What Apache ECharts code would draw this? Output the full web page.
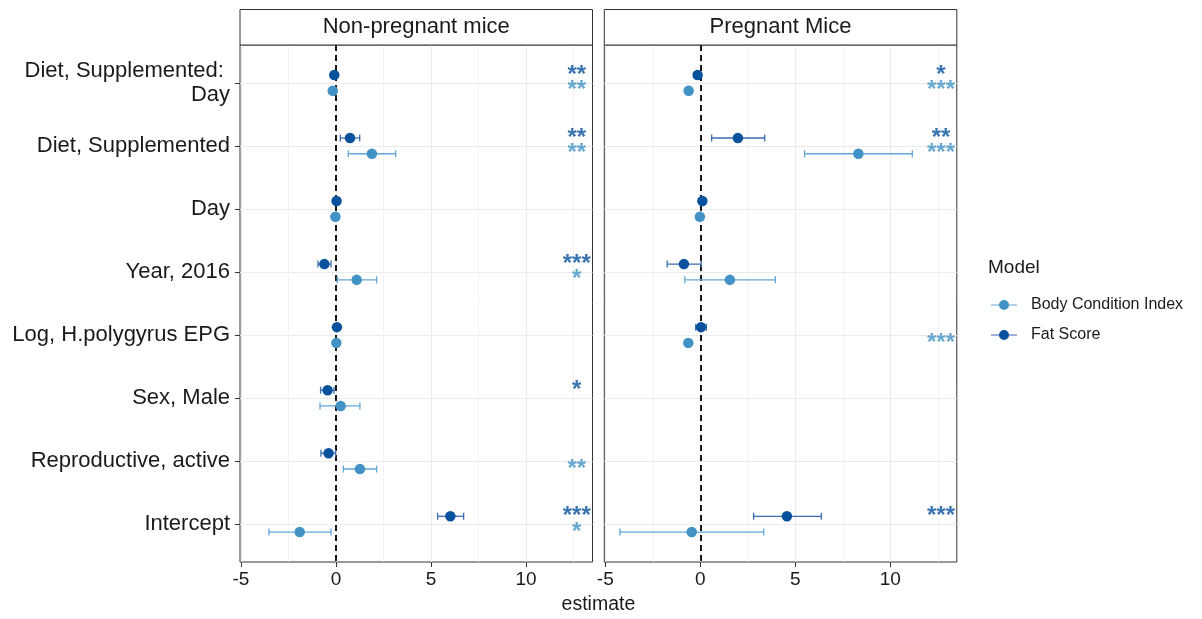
<!DOCTYPE html>
<html>
<head>
<meta charset="utf-8">
<script src="https://cdn.jsdelivr.net/npm/echarts@6/dist/echarts.min.js"></script>
<style>
  html, body { margin: 0; padding: 0; background: #ffffff; }
  #chart { width: 1202px; height: 619px; }
</style>
</head>
<body>
<div id="chart"></div>
<script>
// Model terms, top to bottom
const terms = [
  'Diet, Supplemented: \nDay',
  'Diet, Supplemented',
  'Day',
  'Year, 2016',
  'Log, H.polygyrus EPG',
  'Sex, Male',
  'Reproductive, active',
  'Intercept'
];
const panels = ['Non-pregnant mice', 'Pregnant Mice'];
const models = ['Body Condition Index', 'Fat Score'];
const xTicks = [-5, 0, 5, 10];

// Non-pregnant mice: estimates with confidence limits
const npBciEst = [-0.17, 1.89, -0.03, 1.09, 0.02, 0.25, 1.26, -1.91];
const npBciLo  = [-0.25, 0.65, -0.10, 0.07, -0.05, -0.84, 0.39, -3.53];
const npBciHi  = [-0.09, 3.14, 0.04, 2.14, 0.09, 1.26, 2.14, -0.26];
const npFatEst = [-0.09, 0.74, 0.03, -0.61, 0.05, -0.44, -0.39, 6.02];
const npFatLo  = [-0.15, 0.23, -0.03, -0.95, 0.00, -0.81, -0.79, 5.35];
const npFatHi  = [-0.03, 1.25, 0.09, -0.26, 0.10, -0.10, -0.02, 6.72];
const npBciSig = ['**', '**', '', '*', '', '', '**', '*'];
const npFatSig = ['**', '**', '', '***', '', '*', '', '***'];

// Pregnant mice (no sex / reproductive terms)
const pBciEst = [-0.61, 8.32, -0.02, 1.56, -0.63, null, null, -0.45];
const pBciLo  = [-0.70, 5.49, -0.08, -0.81, -0.70, null, null, -4.23];
const pBciHi  = [-0.52, 11.16, 0.04, 3.95, -0.56, null, null, 3.34];
const pFatEst = [-0.14, 1.98, 0.11, -0.86, 0.04, null, null, 4.56];
const pFatLo  = [-0.20, 0.60, 0.05, -1.74, -0.24, null, null, 2.81];
const pFatHi  = [-0.08, 3.39, 0.17, 0.05, 0.32, null, null, 6.37];
const pBciSig = ['***', '***', '', '', '***', '', '', ''];
const pFatSig = ['*', '**', '', '', '', '', '', '***'];

const SIG_X = 12.67;

const FONT = '"Liberation Sans", Arial, Helvetica, sans-serif';
const INK = '#1a1a1a';
const FRAME = '#333333';
const GRIDC = '#ebebeb';
const pointColor = { 'Body Condition Index': '#4292c6', 'Fat Score': '#08519c' };
const barColor = { 'Body Condition Index': '#62a6d6', 'Fat Score': '#3a6db1' };
const dodge = { 'Body Condition Index': 0.125, 'Fat Score': -0.125 };

// panel geometry
const TOP = 45, HEIGHT = 517, WIDTH = 352.5;
const LEFTS = [240, 604.3];
const STRIP_H = 35.5;

const panelData = [
  {
    'Body Condition Index': { est: npBciEst, lo: npBciLo, hi: npBciHi, sig: npBciSig },
    'Fat Score': { est: npFatEst, lo: npFatLo, hi: npFatHi, sig: npFatSig }
  },
  {
    'Body Condition Index': { est: pBciEst, lo: pBciLo, hi: pBciHi, sig: pBciSig },
    'Fat Score': { est: pFatEst, lo: pFatLo, hi: pFatHi, sig: pFatSig }
  }
];

const termIdx = terms.map((_, i) => i);

const grids = [], xAxes = [], yAxes = [], series = [], graphics = [];

panels.forEach((title, p) => {
  const first = p === 0;
  grids.push({
    left: LEFTS[p], top: TOP, width: WIDTH, height: HEIGHT,
    show: true, borderColor: FRAME, borderWidth: 1, backgroundColor: 'transparent',
    containLabel: false
  });
  xAxes.push({
    type: 'value', gridIndex: p, min: -5.05, max: 13.5, splitNumber: 4,
    axisLine: { show: false, onZero: false },
    axisTick: { show: true, length: 5, customValues: xTicks, lineStyle: { color: FRAME, width: 1 } },
    axisLabel: { customValues: xTicks, fontSize: 19, color: INK, margin: 8, fontFamily: FONT },
    splitLine: { show: true, lineStyle: { color: GRIDC, width: 1.1 } },
    minorTick: { show: false, splitNumber: 2 },
    minorSplitLine: { show: true, lineStyle: { color: '#efefef', width: 0.8 } }
  });
  if (first) {
    yAxes.push({
      type: 'value', gridIndex: p, min: -0.6, max: 7.6, inverse: true,
      axisLine: { show: false, onZero: false },
      axisTick: { show: true, length: 5, customValues: termIdx, lineStyle: { color: FRAME, width: 1 } },
      axisLabel: {
        show: true, customValues: termIdx, formatter: v => terms[Math.round(v)] || '',
        fontSize: 22, lineHeight: 23.5, color: INK, margin: 10, fontFamily: FONT
      },
      splitLine: { show: true, lineStyle: { color: GRIDC, width: 1.1 } }
    });
  } else {
    yAxes.push({
      type: 'value', gridIndex: p, min: -0.6, max: 7.6, inverse: true,
      axisLine: { show: false, onZero: false },
      axisTick: { show: false },
      axisLabel: { show: false },
      splitLine: { show: false }
    });
  }

  // strip header
  graphics.push({
    type: 'rect', z: 10,
    shape: { x: LEFTS[p], y: TOP - STRIP_H, width: WIDTH, height: STRIP_H },
    style: { fill: '#ffffff', stroke: FRAME, lineWidth: 1 }
  });
  graphics.push({
    type: 'text', z: 11,
    x: LEFTS[p] + WIDTH / 2, y: TOP - STRIP_H / 2,
    style: { text: title, fontSize: 22, fontFamily: FONT, fill: INK, align: 'center', verticalAlign: 'middle' }
  });

  models.forEach((m, k) => {
    const d = panelData[p][m];
    const bars = [];
    d.est.forEach((e, i) => {
      if (e === null) return;
      bars.push([e, d.lo[i], d.hi[i], i + dodge[m]]);
    });
    const errSeries = {
      name: m, type: 'custom', xAxisIndex: p, yAxisIndex: p, z: 2,
      silent: true, clip: false,
      encode: { x: [0, 1, 2], y: 3 },
      data: bars,
      renderItem: (params, api) => {
        const yv = api.value(3);
        const a = api.coord([api.value(1), yv]);
        const b = api.coord([api.value(2), yv]);
        const cap = 3.5;
        const st = { stroke: barColor[m], lineWidth: 1.3 };
        return {
          type: 'group',
          children: [
            { type: 'line', shape: { x1: a[0], y1: a[1], x2: b[0], y2: b[1] }, style: st },
            { type: 'line', shape: { x1: a[0], y1: a[1] - cap, x2: a[0], y2: a[1] + cap }, style: st },
            { type: 'line', shape: { x1: b[0], y1: b[1] - cap, x2: b[0], y2: b[1] + cap }, style: st }
          ]
        };
      }
    };
    if (k === 0) {
      errSeries.markLine = {
        silent: true, symbol: ['none', 'none'], z: 1,
        label: { show: false },
        lineStyle: { color: '#000000', type: [6, 4], width: 1.8 },
        data: [{ xAxis: 0 }]
      };
    }
    if (k === 1 && !first) {
      // horizontal term gridlines for the second panel
      errSeries.markLine = {
        silent: true, symbol: ['none', 'none'], z: 0,
        label: { show: false },
        lineStyle: { color: GRIDC, type: 'solid', width: 1.1 },
        data: termIdx.map(i => ({ yAxis: i }))
      };
    }
    series.push(errSeries);
  });

  models.forEach((m) => {
    const d = panelData[p][m];
    const pts = [], sigs = [];
    d.est.forEach((e, i) => {
      if (e === null) return;
      const y = i + dodge[m];
      pts.push([e, y]);
      if (d.sig[i]) sigs.push([SIG_X, y, d.sig[i]]);
    });
    series.push({
      name: m, type: 'scatter', xAxisIndex: p, yAxisIndex: p, z: 3,
      symbol: 'circle', symbolSize: 10.5, silent: true,
      itemStyle: { color: pointColor[m], opacity: 1 },
      emphasis: { disabled: true },
      data: pts
    });
    series.push({
      name: m, type: 'scatter', xAxisIndex: p, yAxisIndex: p, z: 4,
      symbol: 'circle', symbolSize: 0.1, silent: true,
      itemStyle: { color: 'rgba(0,0,0,0)' },
      emphasis: { disabled: true },
      label: {
        show: true, position: 'inside', formatter: q => q.data[2],
        fontSize: 24, fontWeight: 'bold', fontFamily: FONT, color: pointColor[m]
      },
      data: sigs
    });
  });
});

// shared x axis title
graphics.push({
  type: 'text', x: (LEFTS[0] + LEFTS[1] + WIDTH) / 2, y: 605,
  style: { text: 'estimate', fontSize: 19.5, fontFamily: FONT, fill: INK, align: 'center', verticalAlign: 'middle' }
});
// legend title
graphics.push({
  type: 'text', x: 988, y: 268,
  style: { text: 'Model', fontSize: 19, fontFamily: FONT, fill: INK, align: 'left', verticalAlign: 'middle' }
});

// legend keys: a line with a point on it, drawn as two stacked legends
const LINE_KEY = 'path://M0,4.4 L26,4.4 L26,5.6 L0,5.6 Z M0,0 L0.01,0 L0,0.01 Z M0,10 L0.01,10 L0,9.99 Z';
const DOT_KEY = 'path://M0,5 L0.01,5 L0,5.01 Z M26,5 L25.99,5 L26,5.01 Z M13,0 A5,5 0 1,1 13,10 A5,5 0 1,1 13,0 Z';
const legendBase = {
  orient: 'vertical', left: 991, top: 297, padding: 0,
  itemWidth: 26, itemHeight: 10, itemGap: 14,
  selectedMode: false, symbolKeepAspect: false
};

const option = {
  animation: false,
  backgroundColor: '#ffffff',
  textStyle: { fontFamily: FONT },
  grid: grids,
  xAxis: xAxes,
  yAxis: yAxes,
  legend: [
    Object.assign({}, legendBase, {
      icon: LINE_KEY,
      textStyle: { fontSize: 16, color: INK, fontFamily: FONT, padding: [0, 0, 0, 9] },
      data: models.map(m => ({ name: m, itemStyle: { color: barColor[m] } }))
    }),
    Object.assign({}, legendBase, {
      icon: DOT_KEY,
      textStyle: { fontSize: 16, color: 'rgba(0,0,0,0)', fontFamily: FONT, padding: [0, 0, 0, 9] },
      data: models.map(m => ({ name: m, itemStyle: { color: pointColor[m] } }))
    })
  ],
  graphic: graphics,
  series: series
};

const chart = echarts.init(document.getElementById('chart'), null, { renderer: 'canvas' });
chart.setOption(option);
</script>
</body>
</html>
